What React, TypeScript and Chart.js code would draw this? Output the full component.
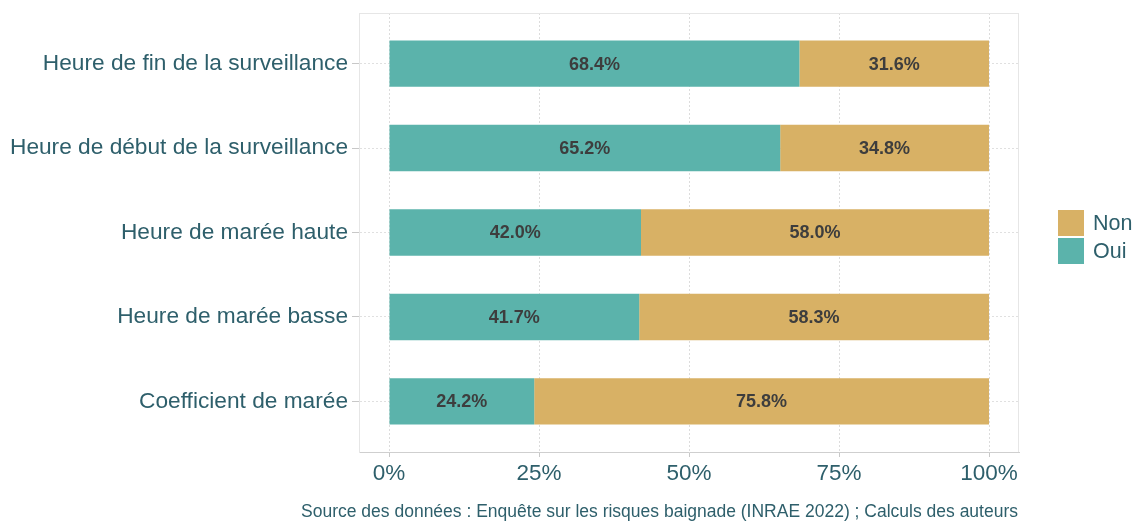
import React, { useEffect, useRef } from "react";
import { Chart, registerables } from "chart.js";

Chart.register(...registerables);

const categories = [
  "Heure de fin de la surveillance",
  "Heure de début de la surveillance",
  "Heure de marée haute",
  "Heure de marée basse",
  "Coefficient de marée",
];
const ouiValues = [68.4, 65.2, 42.0, 41.7, 24.2];
const nonValues = [31.6, 34.8, 58.0, 58.3, 75.8];
const xTicks = [0, 25, 50, 75, 100];
const legendLabels = ["Non", "Oui"];
const caption =
  "Source des données : Enquête sur les risques baignade (INRAE 2022) ; Calculs des auteurs";

const OUI = "#5BB3AB";
const NON = "#D8B165";
const TEXT = "#2E5F6B";
const FONT = "'Liberation Sans', Arial, sans-serif";

export default function App() {
  const ref = useRef<HTMLCanvasElement | null>(null);

  useEffect(() => {
    const canvas = ref.current;
    if (!canvas) return;

    const extras = {
      id: "extras",
      beforeDatasetsDraw(chart: any) {
        const { ctx, chartArea } = chart;
        ctx.save();
        ctx.strokeStyle = "#e6e6e6";
        ctx.lineWidth = 1;
        ctx.beginPath();
        ctx.moveTo(chartArea.left, chartArea.top + 0.5);
        ctx.lineTo(chartArea.right, chartArea.top + 0.5);
        ctx.moveTo(chartArea.right - 0.5, chartArea.top);
        ctx.lineTo(chartArea.right - 0.5, chartArea.bottom);
        ctx.stroke();
        ctx.restore();
      },
      afterDatasetsDraw(chart: any) {
        const { ctx } = chart;
        ctx.save();
        ctx.font = `bold 18px ${FONT}`;
        ctx.fillStyle = "#3d3d3d";
        ctx.textAlign = "center";
        ctx.textBaseline = "middle";
        chart.data.datasets.forEach((ds: any, di: number) => {
          const meta = chart.getDatasetMeta(di);
          meta.data.forEach((bar: any, i: number) => {
            const v = ds.data[i].x;
            const cx = (bar.x + bar.base) / 2;
            ctx.fillText(v.toFixed(1) + "%", cx, bar.y + 1);
          });
        });
        // legend
        const colors = [NON, OUI];
        const lx = 1058;
        let ly = 210;
        ctx.textAlign = "left";
        ctx.font = `21.5px ${FONT}`;
        legendLabels.forEach((lab, i) => {
          ctx.fillStyle = colors[i];
          ctx.fillRect(lx, ly, 26, 26);
          ctx.fillStyle = TEXT;
          ctx.fillText(lab, lx + 35, ly + 14);
          ly += 28;
        });
        // caption
        ctx.font = `17.5px ${FONT}`;
        ctx.textAlign = "right";
        ctx.fillStyle = TEXT;
        ctx.fillText(caption, 1018, 512);
        ctx.restore();
      },
    };

    const chart = new Chart(canvas, {
      type: "bar",
      data: {
        datasets: [
          {
            label: "Oui",
            data: ouiValues.map((v, i) => ({ x: v, y: i })),
            backgroundColor: OUI,
            barPercentage: 0.55,
            categoryPercentage: 1,
          },
          {
            label: "Non",
            data: nonValues.map((v, i) => ({ x: v, y: i })),
            backgroundColor: NON,
            barPercentage: 0.55,
            categoryPercentage: 1,
          },
        ],
      },
      options: {
        indexAxis: "y",
        animation: false,
        responsive: false,
        layout: { padding: { top: 13, right: 115, bottom: 0, left: 0 } },
        plugins: {
          legend: { display: false },
          tooltip: { enabled: false },
        },
        scales: {
          x: {
            type: "linear",
            stacked: true,
            min: -5,
            max: 105,
            offset: false,
            afterBuildTicks: (axis: any) => {
              axis.ticks = xTicks.map((v) => ({ value: v }));
            },
            afterFit: (s: any) => {
              s.height = 69;
              s.paddingLeft = 0;
              s.paddingRight = 0;
            },
            ticks: {
              callback: (v: any) => `${v}%`,
              font: { family: FONT, size: 22.5 },
              color: TEXT,
              padding: 3,
              maxRotation: 0,
            },
            grid: {
              offset: false,
              color: "#dcdcdc",
              lineWidth: 1,
              tickLength: 5,
              tickColor: "#c8c8c8",
            },
            border: { display: true, color: "#cfcfcf", width: 1, dash: [2, 2] },
          },
          y: {
            type: "linear",
            stacked: true,
            reverse: true,
            offset: false,
            min: -0.6,
            max: 4.6,
            afterBuildTicks: (axis: any) => {
              axis.ticks = categories.map((_, i) => ({ value: i }));
            },
            afterFit: (s: any) => {
              s.width = 359;
              s.paddingTop = 0;
              s.paddingBottom = 0;
            },
            ticks: {
              callback: (v: any) => categories[v] ?? "",
              font: { family: FONT, size: 22.7 },
              color: TEXT,
              padding: 4,
            },
            grid: {
              offset: false,
              color: "#e0e0e0",
              lineWidth: 1,
              tickLength: 7,
              tickColor: "#c8c8c8",
            },
            border: { display: true, color: "#e6e6e6", width: 1, dash: [2, 2] },
          },
        },
      },
      plugins: [extras],
    } as any);

    return () => chart.destroy();
  }, []);

  return (
    <div style={{ position: "absolute", left: 0, top: 0, width: 1134, height: 521, background: "#fff" }}>
      <canvas ref={ref} width={1134} height={521} style={{ display: "block" }} />
    </div>
  );
}
